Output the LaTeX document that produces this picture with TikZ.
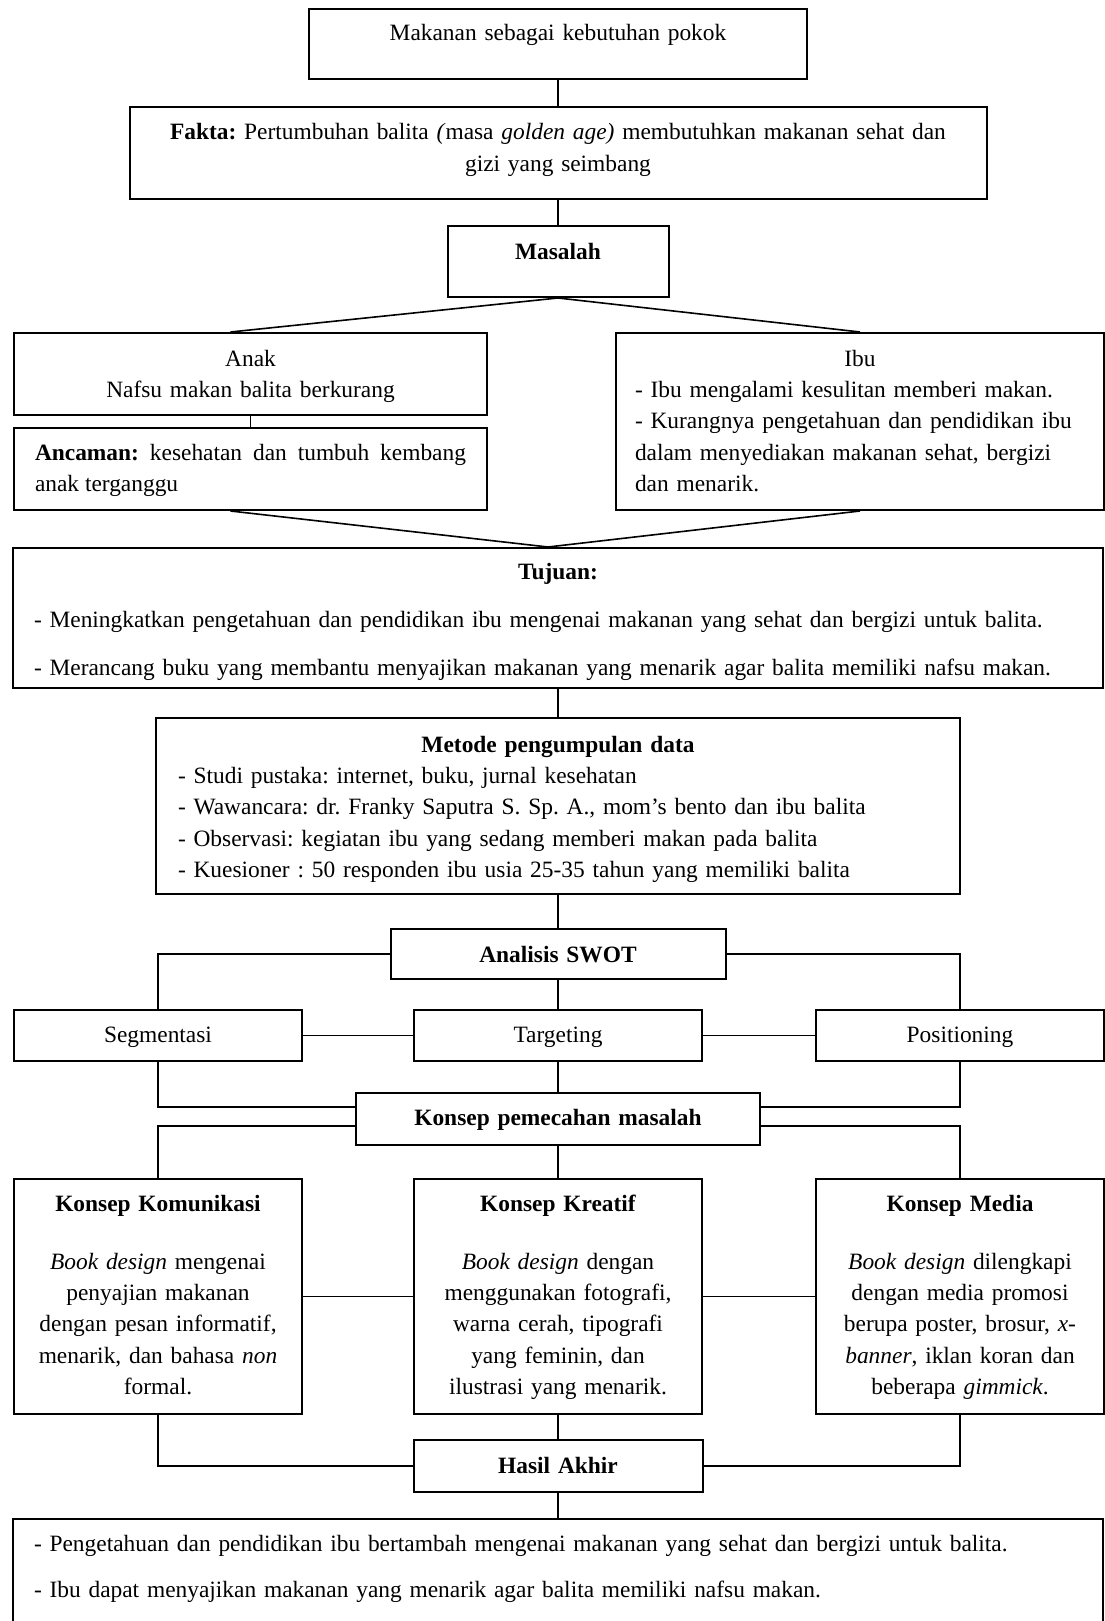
\documentclass[tikz,border=0pt]{standalone}
\usepackage{fontspec}
\setmainfont{Liberation Serif}
\frenchspacing
\usetikzlibrary{positioning}

\begin{document}
\begin{tikzpicture}[
    x=0.5pt, y=-0.5pt,
    every node/.style={font=\fontsize{11.7}{15.7}\selectfont},
    box/.style={draw, line width=1pt, inner xsep=10pt, inner ysep=0pt},
    mid/.style={box, anchor=north, align=center},
    side/.style={box, anchor=north west},
    line/.style={line width=0.8pt},
]
    \path[use as bounding box, fill=white] (0,0) rectangle (1104,1621);

    % Nodes
    \node (mak) [mid, text width=229pt, text height=16pt, text depth=19pt] at (558,8)
        {Makanan sebagai kebutuhan pokok};
    \node (fakta) [mid, text width=408.5pt, text height=16.5pt, text depth=29.5pt] at (558,106)
        {\textbf{Fakta:} Pertumbuhan balita \textit{(}masa \textit{golden age)} membutuhkan makanan sehat dan\\ gizi yang seimbang};
    \node (masalah) [mid, text width=90.5pt, text height=16.5pt, text depth=19pt] at (558,225)
        {\textbf{Masalah}};

    \node (anak) [side, align=center, text width=216.5pt, text height=16.5pt, text depth=24.5pt] at (13,332)
        {Anak\\ Nafsu makan balita berkurang};
    \node (ancaman) [side, align=justify, inner xsep=10.5pt, text width=215.5pt, text height=16pt, text depth=25pt] at (13,427)
        {\textbf{Ancaman:} kesehatan dan tumbuh kembang\linebreak anak terganggu};
    \node (ibu) [side, align=left, inner xsep=9.5pt, text width=225pt, text height=16.5pt, text depth=72pt] at (615,332)
        {\makebox[\linewidth]{Ibu}\\ - Ibu mengalami kesulitan memberi makan.\\ - Kurangnya pengetahuan dan pendidikan ibu\\ dalam menyediakan makanan sehat, bergizi\\ dan menarik.};

    \node (tujuan) [box, anchor=north, align=left, inner xsep=10.5pt, text width=524pt, text height=15.5pt, text depth=54.5pt] at (558,547)
        {\makebox[\linewidth]{\textbf{Tujuan:}}\\[8.3pt]
         - Meningkatkan pengetahuan dan pendidikan ibu mengenai makanan yang sehat dan bergizi untuk balita.\\[8.3pt]
         - Merancang buku yang membantu menyajikan makanan yang menarik agar balita memiliki nafsu makan.};

    \node (metode) [box, anchor=north, align=left, inner xsep=11pt, text width=380pt, text height=17pt, text depth=71pt] at (558,717)
        {\makebox[\linewidth]{\textbf{Metode pengumpulan data}}\\
         - Studi pustaka: internet, buku, jurnal kesehatan\\
         - Wawancara: dr. Franky Saputra S. Sp. A., mom’s bento dan ibu balita\\
         - Observasi: kegiatan ibu yang sedang memberi makan pada balita\\
         - Kuesioner : 50 responden ibu usia 25-35 tahun yang memiliki balita};

    \node (swot) [mid, text width=147.5pt, text height=16.5pt, text depth=8.5pt] at (558,928)
        {\textbf{Analisis SWOT}};
    \node (seg) [side, align=center, text width=124pt, text height=16pt, text depth=9.5pt] at (13,1009)
        {Segmentasi};
    \node (target) [mid, text width=124pt, text height=16pt, text depth=9.5pt] at (558,1009)
        {Targeting};
    \node (pos) [side, align=center, text width=124pt, text height=16pt, text depth=9.5pt] at (815,1009)
        {Positioning};

    \node (konsep) [mid, text width=182pt, text height=16pt, text depth=10pt] at (558,1092)
        {\textbf{Konsep pemecahan masalah}};

    \node (kom) [side, align=center, inner xsep=7pt, text width=130pt, text height=16pt, text depth=101.5pt] at (13,1178)
        {\textbf{Konsep Komunikasi}\\[13.3pt]
         \textit{Book design} mengenai\\ penyajian makanan\\ dengan pesan informatif,\\ menarik, dan bahasa \textit{non}\\ formal.};
    \node (kreatif) [mid, inner xsep=7pt, text width=130pt, text height=16pt, text depth=101.5pt] at (558,1178)
        {\textbf{Konsep Kreatif}\\[13.3pt]
         \textit{Book design} dengan\\ menggunakan fotografi,\\ warna cerah, tipografi\\ yang feminin, dan\\ ilustrasi yang menarik.};
    \node (media) [side, align=center, inner xsep=7pt, text width=130pt, text height=16pt, text depth=101.5pt] at (815,1178)
        {\textbf{Konsep Media}\\[13.3pt]
         \textit{Book design} dilengkapi\\ dengan media promosi\\ berupa poster, brosur, \textit{x-}\\ \textit{banner}, iklan koran dan\\ beberapa \textit{gimmick}.};

    \node (hasil) [mid, text width=124.5pt, text height=16.5pt, text depth=9.5pt] at (558,1439)
        {\textbf{Hasil Akhir}};
    \node (akhir) [box, anchor=north, align=left, inner xsep=10.5pt, text width=524pt, text height=16pt, text depth=45pt] at (558,1518)
        {- Pengetahuan dan pendidikan ibu bertambah mengenai makanan yang sehat dan bergizi untuk balita.\\[7.3pt]
         - Ibu dapat menyajikan makanan yang menarik agar balita memiliki nafsu makan.};

    % Connections
    \draw[line] (mak) -- (fakta);
    \draw[line] (fakta) -- (masalah);
    \draw[line] (masalah.south) -- ([xshift=-10pt]anak.north);
    \draw[line] (masalah.south) -- (ibu.north);
    \draw[line] (anak) -- (ancaman);
    \draw[line] ([xshift=-10pt]ancaman.south) -- ([xshift=-5pt]tujuan.north);
    \draw[line] (ibu.south) -- ([xshift=-5pt]tujuan.north);

    \draw[line] (tujuan) -- (metode);
    \draw[line] (metode) -- (swot);

    \draw[line] (swot.west) -| (seg);
    \draw[line] (swot.east) -| (pos);
    \draw[line] (swot) -- (target);
    \draw[line] (seg) -- (target);
    \draw[line] (target) -- (pos);
    \draw[line] (target) -- (konsep);
    \draw[line] (seg.south) |- ([yshift=6pt]konsep.west);
    \draw[line] (pos.south) |- ([yshift=6pt]konsep.east);

    \draw[line] ([yshift=-3.5pt]konsep.west) -| (kom);
    \draw[line] ([yshift=-3.5pt]konsep.east) -| (media);
    \draw[line] (konsep) -- (kreatif);
    \draw[line] (kom) -- (kreatif);
    \draw[line] (kreatif) -- (media);

    \draw[line] (kreatif) -- (hasil);
    \draw[line] (kom.south) |- (hasil.west);
    \draw[line] (media.south) |- (hasil.east);
    \draw[line] (hasil) -- (akhir);

\end{tikzpicture}
\end{document}
